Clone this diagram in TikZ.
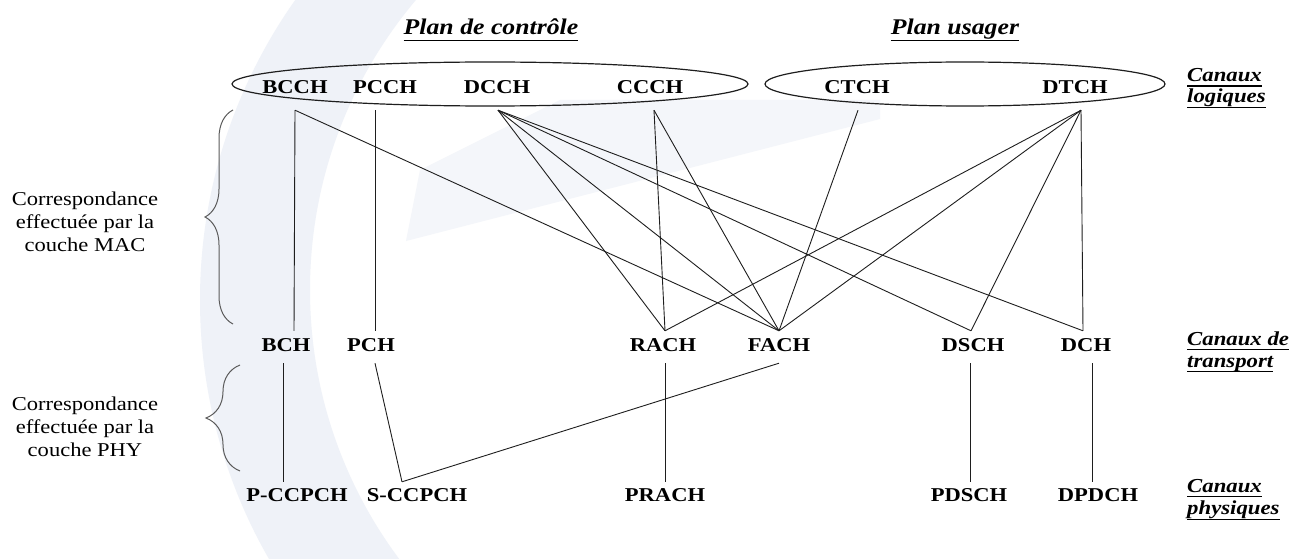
\documentclass[tikz,border=0pt]{standalone}
\usepackage{fontspec}
\setmainfont{Liberation Serif}[FakeStretch=1.15]
\usetikzlibrary{calc,shapes.geometric,decorations.pathreplacing}

\definecolor{wmblue}{RGB}{239,242,248}
\definecolor{wmpale}{RGB}{244,246,250}
\definecolor{ink}{RGB}{30,30,30}
\definecolor{bracegray}{RGB}{90,90,90}

\begin{document}
\begin{tikzpicture}[x=1pt,y=-1pt,
  lblfont/.style={font=\fontsize{19.6}{23}\selectfont\bfseries},
  chanlog/.style={lblfont, inner sep=0pt, anchor=base, text depth=16.7pt},
  chantr/.style={lblfont, inner sep=0pt, anchor=base, text height=20.5pt, text depth=11.5pt},
  chanph/.style={lblfont, inner sep=0pt, anchor=base, text height=19pt},
  plane/.style={font=\fontsize{22.4}{26}\selectfont\bfseries\itshape, inner sep=0pt, anchor=base, text depth=5.5pt},
  sidelbl/.style={font=\fontsize{19.8}{23}\selectfont\bfseries\itshape, inner sep=0pt, anchor=base west, text depth=4.5pt},
  note/.style={font=\fontsize{19.6}{23.2}\selectfont, align=center, inner sep=0pt},
  group/.style={draw=ink, line width=1.2pt, ellipse, inner sep=0pt},
  link/.style={draw=ink, line width=0.9pt},
  uline/.style={draw=black, line width=1.6pt},
  mapbrace/.style={draw=bracegray, line width=1pt, decorate}
]
\useasboundingbox (0,0) rectangle (1304,559);
\fill[white] (0,0) rectangle (1304,559);

% faint background emblem
\fill[wmpale] (406,241) -- (880,119) -- (880,100) -- (560,100) -- (420,170) -- cycle;
\begin{scope}
  \clip (0,0) rectangle (760,559);
  \fill[wmblue, even odd rule] (720,300) circle [radius=520] (760,290) circle [radius=450];
\end{scope}

% channel groups
\node[group, minimum width=516pt, minimum height=44pt] (ctrl) at (490,84) {};
\node[group, minimum width=400pt, minimum height=44pt] (user) at (965,84) {};

% plane titles
\node[plane] (tctrl) at (491,35) {Plan de contrôle};
\node[plane] (tuser) at (955,35) {Plan usager};
\draw[uline] (tctrl.south west) -- (tctrl.south east);
\draw[uline] (tuser.south west) -- (tuser.south east);

% logical channels
\node[chanlog] (bcch) at (295,93.3) {BCCH};
\node[chanlog] (pcch) at (385,93.3) {PCCH};
\node[chanlog] (dcch) at (497,93.3) {DCCH};
\node[chanlog] (ccch) at (650,93.3) {CCCH};
\node[chanlog] (ctch) at (857,93.3) {CTCH};
\node[chanlog] (dtch) at (1075,93.3) {DTCH};

% transport channels
\node[chantr] (bch) at (286,351.5) {BCH};
\node[chantr] (pch) at (371,351.5) {PCH};
\node[chantr] (rach) at (663,351.5) {RACH};
\node[chantr] (fach) at (779,351.5) {FACH};
\node[chantr] (dsch) at (973,351.5) {DSCH};
\node[chantr] (dch) at (1086,351.5) {DCH};

% physical channels
\node[chanph] (pccpch) at (297,501) {P-CCPCH};
\node[chanph] (sccpch) at (417,501) {S-CCPCH};
\node[chanph] (prach) at (665,501) {PRACH};
\node[chanph] (pdsch) at (969,501) {PDSCH};
\node[chanph] (dpdch) at (1098,501) {DPDCH};

% layer captions on the right
\node[sidelbl] (loga) at (1187,81.5) {Canaux};
\node[sidelbl] (logb) at (1187,103) {logiques};
\node[sidelbl] (tra) at (1187,345) {Canaux de};
\node[sidelbl] (trb) at (1187,367) {transport};
\node[sidelbl] (phya) at (1187,492) {Canaux};
\node[sidelbl] (phyb) at (1187,514.5) {physiques};
\foreach \n in {loga,logb,tra,trb,phya,phyb}
  \draw[uline, line width=1.4pt] (\n.south west) -- (\n.south east);

% logical -> transport (MAC)
\draw[link] (bcch.south) -- ([xshift=8pt]bch.north);
\draw[link] (bcch.south) -- (fach.north);
\draw[link] ([xshift=-10pt]pcch.south) -- ([xshift=4pt]pch.north);
\draw[link] ([xshift=1pt]dcch.south) -- ([xshift=2pt]rach.north);
\draw[link] ([xshift=1pt]dcch.south) -- (fach.north);
\draw[link] ([xshift=1pt]dcch.south) -- ([xshift=-2pt]dsch.north);
\draw[link] ([xshift=1pt]dcch.south) -- ([xshift=-3pt]dch.north);
\draw[link] ([xshift=4pt]ccch.south) -- ([xshift=2pt]rach.north);
\draw[link] ([xshift=4pt]ccch.south) -- (fach.north);
\draw[link] ([xshift=1pt]ctch.south) -- (fach.north);
\draw[link] ([xshift=6pt]dtch.south) -- ([xshift=2pt]rach.north);
\draw[link] ([xshift=6pt]dtch.south) -- (fach.north);
\draw[link] ([xshift=6pt]dtch.south) -- ([xshift=-2pt]dsch.north);
\draw[link] ([xshift=6pt]dtch.south) -- ([xshift=-3pt]dch.north);

% transport -> physical (PHY)
\draw[link] ([xshift=-3pt]bch.south) -- ([xshift=-14pt]pccpch.north);
\draw[link] ([xshift=4pt]pch.south) -- ([xshift=-15pt]sccpch.north);
\draw[link] (fach.south) -- ([xshift=-15pt]sccpch.north);
\draw[link] ([xshift=2pt]rach.south) -- (prach.north);
\draw[link] ([xshift=-3pt]dsch.south) -- ([xshift=1pt]pdsch.north);
\draw[link] ([xshift=6pt]dch.south) -- ([xshift=-6pt]dpdch.north);

% mapping notes and braces
\node[note] (mac) at (85,222) {Correspondance\\effectuée par la\\couche MAC};
\node[note] (phy) at (85,427) {Correspondance\\effectuée par la\\couche PHY};
\coordinate (macb) at (233,324);
\coordinate (mact) at (233,110);
\coordinate (phyb0) at (240,471);
\coordinate (phyt) at (240,365);
\draw[mapbrace, decoration={brace, amplitude=28pt}] (macb) -- (mact);
\draw[mapbrace, decoration={brace, amplitude=34pt}] (phyb0) -- (phyt);
\end{tikzpicture}
\end{document}
